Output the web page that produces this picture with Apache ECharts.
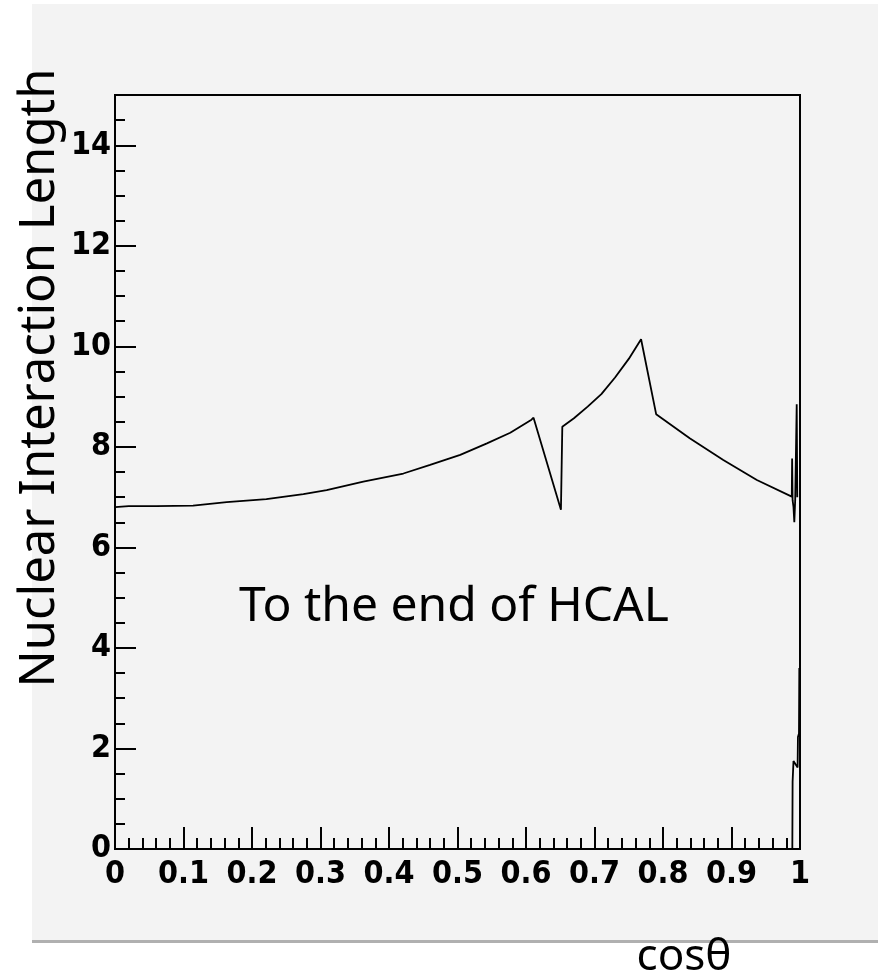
<!DOCTYPE html>
<html>
<head>
<meta charset="utf-8">
<script src="https://cdn.jsdelivr.net/npm/echarts@6/dist/echarts.min.js"></script>
<style>
html,body{margin:0;padding:0;background:#fff;}
#c{width:878px;height:979px;}
</style>
</head>
<body>
<div id="c"></div>
<script>
// cos(theta) positions and nuclear interaction length values (main curve)
var cosTheta = [0.000,0.020,0.060,0.114,0.163,0.221,0.275,0.309,0.3625,0.421,0.460,0.504,0.543,0.577,0.608,0.611,0.651,0.653,0.670,0.690,0.710,0.730,0.750,0.768,0.790,0.839,0.888,0.937,0.988,0.9885,0.9892,0.9905,0.9917,0.9930,0.9948,0.9952,0.9960];
var nil      = [6.80, 6.82, 6.82, 6.83, 6.90, 6.96, 7.06, 7.14, 7.31, 7.47, 7.64, 7.84, 8.07, 8.28, 8.54, 8.58, 6.75, 8.40, 8.57, 8.80, 9.05, 9.38, 9.75, 10.14,8.65, 8.17, 7.74, 7.34, 7.01, 7.77, 6.94, 6.80, 6.50, 6.95, 6.98, 8.85, 7.00];
// last bins near cos(theta)=1
var cosThetaEdge = [0.9888,0.9892,0.9905,0.9965,0.9970,0.9985,0.9990,1.0000];
var nilEdge      = [0.00,  1.34,  1.75,  1.62,  2.23,  2.30,  3.60,  3.60];
var xTickLabels = ['0','0.1','0.2','0.3','0.4','0.5','0.6','0.7','0.8','0.9','1'];
var yTickLabels = ['0','2','4','6','8','10','12','14'];

function pairs(xs, ys){ var out=[]; for(var i=0;i<xs.length;i++){ out.push([xs[i], ys[i]]); } return out; }

var chart = echarts.init(document.getElementById('c'), null, {renderer:'canvas'});
var labelFont = {fontFamily:'"Liberation Sans Narrow","DejaVu Sans Condensed",sans-serif', fontWeight:'bold', fontSize:32, color:'#000'};
chart.setOption({
  animation:false,
  backgroundColor:'#ffffff',
  graphic:[
    {type:'rect', z:-10, shape:{x:32,y:4,width:846,height:938}, style:{fill:'#f3f3f3'}},
    {type:'rect', z:-9, shape:{x:32,y:940,width:846,height:3}, style:{fill:'#b0b0b0'}},
    {type:'text', x:40, y:378, rotation:Math.PI/2, z:10,
      style:{text:'Nuclear Interaction Length', fontFamily:'"Noto Sans",sans-serif', fontSize:49, fill:'#000', textAlign:'center', textVerticalAlign:'middle'}},
    {type:'text', x:454, y:607, z:10,
      style:{text:'To the end of HCAL', fontFamily:'"Noto Sans",sans-serif', fontSize:48, fill:'#000', textAlign:'center', textVerticalAlign:'middle'}},
    {type:'text', x:684, y:957, z:10,
      style:{text:'cos\u03b8', fontFamily:'"Noto Sans",sans-serif', fontSize:44, fill:'#000', textAlign:'center', textVerticalAlign:'middle'}}
  ],
  grid:{left:115, top:95, right:78, bottom:130, show:true, borderColor:'#000', borderWidth:2, backgroundColor:'transparent'},
  xAxis:[
    {type:'value', min:0, max:1, interval:0.1, position:'bottom',
      axisLine:{show:true, onZero:false, lineStyle:{color:'#000', width:2}},
      axisTick:{show:true, inside:true, length:22, lineStyle:{color:'#000', width:2}},
      splitLine:{show:false},
      axisLabel:Object.assign({margin:10, formatter:function(v){ return xTickLabels[Math.round(v*10)]; }}, labelFont)},
    {type:'value', min:0, max:1, interval:0.02, position:'bottom',
      axisLine:{show:false}, axisLabel:{show:false}, splitLine:{show:false},
      axisTick:{show:true, inside:true, length:11, lineStyle:{color:'#000', width:2}}}
  ],
  yAxis:[
    {type:'value', min:0, max:15, interval:2, position:'left',
      axisLine:{show:true, onZero:false, lineStyle:{color:'#000', width:2}},
      axisTick:{show:true, inside:true, length:21, lineStyle:{color:'#000', width:2}},
      splitLine:{show:false},
      axisLabel:Object.assign({margin:4, formatter:function(v){ var i=Math.round(v/2); return (v%2===0 && yTickLabels[i]!==undefined) ? yTickLabels[i] : ''; }}, labelFont)},
    {type:'value', min:0, max:15, interval:0.5, position:'left',
      axisLine:{show:false}, axisLabel:{show:false}, splitLine:{show:false},
      axisTick:{show:true, inside:true, length:10, lineStyle:{color:'#000', width:2}}}
  ],
  series:[
    {type:'line', xAxisIndex:0, yAxisIndex:0, data:pairs(cosTheta, nil), showSymbol:false, symbol:'none',
      lineStyle:{color:'#000', width:1.8}, z:5},
    {type:'line', xAxisIndex:0, yAxisIndex:0, data:pairs(cosThetaEdge, nilEdge), showSymbol:false, symbol:'none',
      lineStyle:{color:'#000', width:1.8}, z:5}
  ]
});
</script>
</body>
</html>
